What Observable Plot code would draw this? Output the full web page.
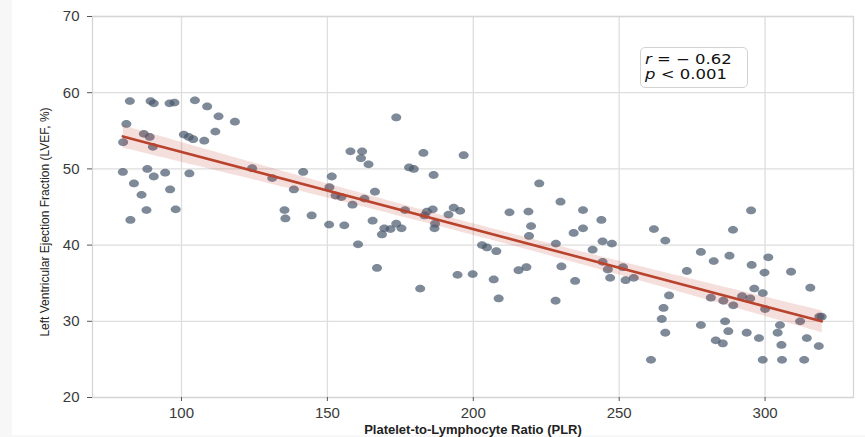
<!DOCTYPE html>
<html>
<head>
<meta charset="utf-8">
<script src="https://cdn.jsdelivr.net/npm/d3@7"></script>
<script src="https://cdn.jsdelivr.net/npm/@observablehq/plot@0.6"></script>
<style>
  html, body { margin: 0; padding: 0; background: #f7f7f7; }
  #wrap { position: relative; width: 865px; height: 437px; overflow: hidden; }
  #panel { position: absolute; left: 12px; top: 0; width: 853px; height: 435px; background: #fff; }
  #chart { position: absolute; left: 0; top: 0; }
  #note {
    position: absolute; left: 640px; top: 47px; width: 106px; height: 39px;
    border: 1px solid #d2d2d2; border-radius: 5px; background: #fff;
    font-family: "DejaVu Sans", sans-serif; font-size: 13.5px; line-height: 15px; color: #111;
  }
  #note div { transform: scaleX(1.22); transform-origin: left center; margin-left: 4px; white-space: nowrap; }
  #note div:first-child { margin-top: 4px; }
</style>
</head>
<body>
<div id="wrap">
  <div id="panel"></div>
  <div id="chart"></div>
  <div id="note"><div><i>r</i> = − 0.62</div><div><i>p</i> &lt; 0.001</div></div>
</div>
<script>
const plr = [
  82.3, 89.4, 90.5, 95.9, 97.6, 104.6, 108.8, 112.7, 118.3, 81.1,
  87.1, 89.1, 100.8, 102.5, 104.0, 107.8, 111.6, 80.0, 90.2, 124.2,
  131.1, 79.9, 88.3, 90.5, 94.4, 102.7, 83.7, 86.3, 96.1, 88.0,
  98.0, 82.5,
  173.6, 157.9, 161.9, 161.5, 164.1, 182.9, 141.7, 178.0, 179.6, 186.4,
  151.5, 138.5, 150.7, 152.8, 154.8, 166.3, 162.7, 158.6, 135.3, 135.6,
  144.6, 150.6, 155.8, 165.5, 176.6, 184.1, 186.1, 183.3, 193.3, 191.5,
  186.9, 186.7, 169.5, 171.6, 173.6, 175.4, 168.7, 160.5, 167.0, 181.8,
  194.6,
  196.7, 222.6, 229.9, 237.6, 243.9, 195.5, 212.4, 218.9, 219.8, 219.1,
  234.4, 237.6, 244.3, 247.5, 240.9, 203.0, 204.7, 207.9, 228.3, 244.3,
  246.1, 251.3, 246.9, 252.2, 255.0, 230.2, 215.5, 218.2, 199.8, 207.0,
  234.9, 208.7, 228.2,
  295.2, 261.9, 289.0, 265.8, 278.0, 282.4, 287.8, 295.4, 301.1, 299.8,
  308.9, 273.2, 267.1, 296.3, 299.2, 315.5, 281.4, 285.7, 289.1, 292.1,
  294.9, 265.2, 264.6, 300.0, 312.0, 318.6, 319.4, 286.3, 278.0, 287.4,
  293.7, 297.9, 305.1, 304.3, 265.8, 283.1, 285.5, 314.3, 305.6, 318.4,
  260.9, 299.2, 305.8, 313.4
];
const lvef = [
  58.9, 58.9, 58.6, 58.6, 58.7, 59.0, 58.2, 56.9, 56.2, 55.9,
  54.6, 54.2, 54.5, 54.2, 53.9, 53.7, 54.9, 53.5, 52.9, 50.1,
  48.8, 49.6, 50.0, 49.0, 49.5, 49.4, 48.1, 46.6, 47.3, 44.6,
  44.7, 43.3,
  56.75, 52.3, 52.3, 51.4, 50.6, 52.1, 49.6, 50.2, 50.0, 49.2,
  49.0, 47.3, 47.6, 46.5, 46.3, 47.0, 46.1, 45.3, 44.6, 43.5,
  43.9, 42.7, 42.6, 43.2, 44.6, 44.4, 44.7, 43.9, 44.9, 44.0,
  42.8, 42.2, 42.2, 42.1, 42.8, 42.2, 41.4, 40.1, 37.0, 34.3,
  36.1,
  51.8, 48.1, 45.7, 44.6, 43.3, 44.5, 44.3, 44.4, 42.5, 41.2,
  41.6, 42.2, 40.5, 40.2, 39.4, 40.0, 39.7, 39.2, 40.2, 37.8,
  36.8, 37.1, 35.7, 35.4, 35.7, 37.2, 36.7, 37.1, 36.2, 35.5,
  35.3, 33.0, 32.7,
  44.55, 42.1, 42.0, 40.6, 39.1, 37.9, 38.6, 37.4, 38.4, 36.4,
  36.5, 36.6, 33.4, 34.3, 33.7, 34.4, 33.1, 32.7, 32.1, 33.3,
  33.0, 31.75, 30.3, 31.6, 30.0, 30.6, 30.6, 30.0, 29.5, 28.7,
  28.5, 27.8, 29.5, 28.5, 28.5, 27.5, 27.1, 27.8, 26.9, 26.75,
  24.95, 24.95, 24.95, 24.95
];
const xTicks = [100, 150, 200, 250, 300];
const yTicks = [20, 30, 40, 50, 60, 70];
const xLabel = "Platelet-to-Lymphocyte Ratio (PLR)";
const yLabel = "Left Ventricular Ejection Fraction (LVEF, %)";

const data = plr.map((x, i) => ({x, y: lvef[i]}));

const ellipse = {
  draw(ctx, size) {
    const r = Math.sqrt(size / Math.PI);
    const rx = r, ry = r * 0.78, k = 0.5523;
    ctx.moveTo(rx, 0);
    ctx.bezierCurveTo(rx, ry * k, rx * k, ry, 0, ry);
    ctx.bezierCurveTo(-rx * k, ry, -rx, ry * k, -rx, 0);
    ctx.bezierCurveTo(-rx, -ry * k, -rx * k, -ry, 0, -ry);
    ctx.bezierCurveTo(rx * k, -ry, rx, -ry * k, rx, 0);
    ctx.closePath();
  }
};

const chart = Plot.plot({
  width: 865,
  height: 437,
  marginLeft: 92,
  marginRight: 12,
  marginTop: 16,
  marginBottom: 40,
  style: {background: "transparent", fontFamily: "'Liberation Sans', Arial, sans-serif", color: "#333"},
  x: {domain: [69.5, 330.3]},
  y: {domain: [20, 70]},
  marks: [
    Plot.gridX(xTicks, {stroke: "#dedede", strokeOpacity: 1, strokeWidth: 1.3}),
    Plot.gridY(yTicks, {stroke: "#dedede", strokeOpacity: 1, strokeWidth: 1.3}),
    Plot.frame({stroke: "#d6d6d6", strokeWidth: 1.3}),
    Plot.axisX(xTicks, {tickSize: 4, tickPadding: 6, fontSize: 15, label: null, stroke: "#555", fill: "#3a3a3a"}),
    Plot.axisY(yTicks, {tickSize: 5, tickPadding: 8, fontSize: 15, label: null, stroke: "#555", fill: "#3a3a3a"}),
    Plot.dot(data, {x: "x", y: "y", r: 5, symbol: ellipse, fill: "#48586c", fillOpacity: 0.7, stroke: "none"}),
    Plot.linearRegressionY(data, {x: "x", y: "y", ci: 0.95, stroke: "#b9432d", strokeWidth: 2.6, fill: "#c0392b", fillOpacity: 0.16}),
    Plot.text([yLabel], {frameAnchor: "left", rotate: -90, dx: -47, dy: 15, textAnchor: "middle", lineAnchor: "middle", fontSize: 12, fill: "#222", ariaLabel: "ylabel"}),
    Plot.text([xLabel], {frameAnchor: "bottom", dy: 32, textAnchor: "middle", lineAnchor: "middle", fontSize: 13, fontWeight: "bold", fill: "#222", ariaLabel: "xlabel"})
  ]
});
document.getElementById("chart").appendChild(chart);
d3.select(chart).selectAll('g[aria-label="ylabel"] text')
  .attr("textLength", 218).attr("lengthAdjust", "spacingAndGlyphs");
d3.select(chart).selectAll('g[aria-label="xlabel"] text')
  .attr("textLength", 275).attr("lengthAdjust", "spacingAndGlyphs");
</script>
</body>
</html>
